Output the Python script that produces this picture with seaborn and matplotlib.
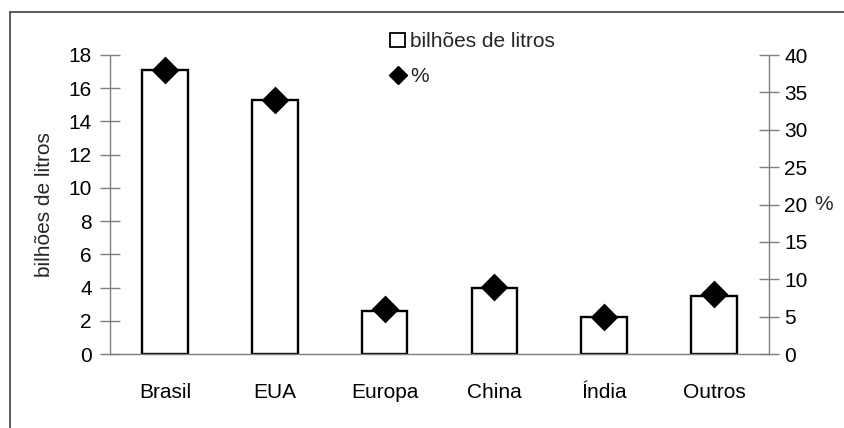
import matplotlib
matplotlib.use("Agg")
import matplotlib.pyplot as plt
from matplotlib.lines import Line2D
from matplotlib.patches import Patch
import numpy as np
import pandas as pd
import seaborn as sns

# Fuel ethanol production by region
regioes = ["Brasil", "EUA", "Europa", "China", "Índia", "Outros"]
bilhoes_litros = [17.1, 15.3, 2.6, 4.0, 2.2, 3.5]
percentual = [38, 34, 6, 9, 5, 8]
yticks_litros = [0, 2, 4, 6, 8, 10, 12, 14, 16, 18]
yticks_pct = [0, 5, 10, 15, 20, 25, 30, 35, 40]

df = pd.DataFrame({"regiao": regioes, "litros": bilhoes_litros, "pct": percentual})

sns.set_theme(style="white")
plt.rcParams["font.family"] = ["Liberation Sans", "DejaVu Sans"]
FS = 15
spine_gray = "#7f7f7f"

fig = plt.figure(figsize=(8.45, 4.28), dpi=100)
ax = fig.add_axes([110 / 845, 1 - 354 / 428, 659 / 845, 299 / 428])

sns.barplot(data=df, x="regiao", y="litros", ax=ax, color="white",
            edgecolor="black", linewidth=1.7, width=0.415, saturation=1)
ax.set_xlim(-0.5, len(regioes) - 0.5)
ax.set_ylim(0, 18)
ax.set_yticks(yticks_litros)
ax.set_xlabel("")
ax.set_ylabel("bilhões de litros", fontsize=FS)
ax.yaxis.set_label_coords(-56 / 659, 0.5)
ax.set_xticks(np.arange(len(regioes)) - 0.5, minor=False)
ax.set_xticklabels([""] * len(regioes))
ax.set_xticks(np.arange(len(regioes)), minor=True)
ax.set_xticklabels(regioes, minor=True)
ax.tick_params(axis="x", which="major", direction="inout", length=14,
               width=1, color=spine_gray)
ax.tick_params(axis="x", which="minor", length=0, pad=21, labelsize=FS,
               labelcolor="black")
ax.tick_params(axis="y", direction="inout", length=14, width=1,
               color=spine_gray, pad=6, labelsize=FS, labelcolor="black")

ax2 = ax.twinx()
sns.scatterplot(x=np.arange(len(regioes)), y=df["pct"], ax=ax2, marker="D",
                s=200, color="black", edgecolor="black", linewidth=0,
                zorder=5, clip_on=False)
ax2.set_ylim(0, 40)
ax2.set_yticks(yticks_pct)
ax2.set_ylabel("%", rotation=0, fontsize=FS, va="center", ha="center")
ax2.yaxis.set_label_coords(1.0 + 55 / 659, 0.5)
ax2.tick_params(axis="y", direction="inout", length=14, width=1,
                color=spine_gray, pad=4, labelsize=FS, labelcolor="black",
                right=True)

for a in (ax, ax2):
    a.spines["top"].set_visible(False)
    for side in ("left", "right", "bottom"):
        a.spines[side].set_color(spine_gray)
        a.spines[side].set_linewidth(1)
ax.spines["right"].set_visible(False)
ax2.spines["left"].set_visible(False)
ax2.spines["bottom"].set_visible(False)
ax.set_zorder(1)
ax2.set_zorder(2)
ax.patch.set_visible(False)
ax2.patch.set_visible(False)

# Frame around the chart (top and left edges)
fig.add_artist(Line2D([10 / 845, 1.0], [1 - 12 / 428, 1 - 12 / 428],
                      color="#404040", lw=1.2, transform=fig.transFigure))
fig.add_artist(Line2D([10 / 845, 10 / 845], [0, 1 - 12 / 428],
                      color="#404040", lw=1.2, transform=fig.transFigure))

handles = [
    Patch(facecolor="white", edgecolor="black", linewidth=1.3),
    Line2D([], [], marker="D", color="black", linestyle="none", markersize=9),
]
fig.legend(handles, ["bilhões de litros", "%"], loc="upper left",
           bbox_to_anchor=(382 / 845, 1 - 24 / 428), frameon=False,
           fontsize=FS, handlelength=0.7, handleheight=0.7,
           handletextpad=0.25, labelspacing=0.75, borderaxespad=0)

fig.savefig("out.png", dpi=100)
